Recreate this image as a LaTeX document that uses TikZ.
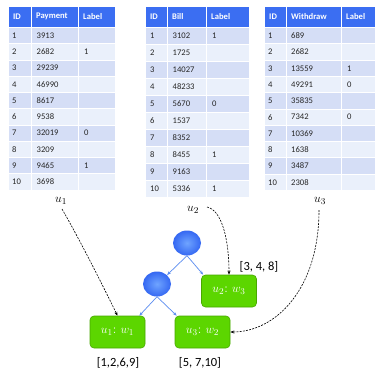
\documentclass[tikz,border=0pt]{standalone}
\usepackage{fontspec}
\newfontfamily\tabfont{Carlito}
\usetikzlibrary{arrows.meta,shapes.geometric}
\definecolor{hdr}{HTML}{3B6EF2}
\definecolor{rowa}{HTML}{D5DEF6}
\definecolor{rowb}{HTML}{EAF0FB}
\definecolor{leaf}{HTML}{5CD600}
\definecolor{leafb}{HTML}{48A800}
\definecolor{edgec}{HTML}{5A8CF0}
\definecolor{ballin}{HTML}{6FA4FF}
\definecolor{ballout}{HTML}{3568F2}
\newcommand\tabgrid[5]{%
  \fill[hdr,draw=white,line width=1pt] (#1,6) rectangle (#2,27.5);
  \fill[hdr,draw=white,line width=1pt] (#2,6) rectangle (#3,27.5);
  \fill[hdr,draw=white,line width=1pt] (#3,6) rectangle (#4,27.5);
  \foreach \i in {0,...,9} {
    \pgfmathsetmacro\ya{27.5+\i*#5}
    \pgfmathsetmacro\yb{27.5+(\i+1)*#5}
    \pgfmathtruncatemacro\odd{mod(\i,2)}
    \ifnum\odd=0 \def\rc{rowa}\else\def\rc{rowb}\fi
    \foreach \xa/\xb in {#1/#2,#2/#3,#3/#4}
      \filldraw[fill=\rc,draw=white,line width=1pt] (\xa,\ya) rectangle (\xb,\yb);
  }
}
\begin{document}
\begin{tikzpicture}[x=1pt,y=-1pt,
  cell/.style={font=\tabfont\fontsize{8.6}{10}\selectfont,anchor=west,inner sep=0pt,text=black!85},
  hcell/.style={font=\tabfont\bfseries\fontsize{8.6}{10}\selectfont,anchor=west,inner sep=0pt,text=white},
  ballnode/.style={ellipse,minimum width=28pt,minimum height=25pt,inner sep=0pt,inner color=ballin,outer color=ballout},
  leafbox/.style={rectangle,rounded corners=4pt,fill=leaf,draw=leafb,line width=0.6pt,minimum width=55pt,minimum height=32pt,text=white,font=\fontsize{13}{15}\selectfont},
  treeedge/.style={draw=edgec,line width=0.7pt,-{Stealth[length=4pt,width=3pt]}},
  dasharrow/.style={draw=black,dashed,dash pattern=on 2pt off 1.2pt,line width=0.6pt,-{Stealth[length=4pt,width=3pt]}},
  ulabel/.style={font=\fontsize{13}{15}\selectfont,inner sep=0pt},
  listlabel/.style={font=\tabfont\fontsize{12.5}{14}\selectfont,inner sep=0pt}]
\useasboundingbox[fill=white] (0,0) rectangle (382,373);

% ---- Table 1
\tabgrid{8}{31.5}{78.5}{115}{16.25}
\node[hcell] (h1a) at (13,16.5) {ID};
\node[hcell] (h1b) at (36,16.5) {Payment};
\node[hcell] (h1c) at (83,16.5) {Label};
\foreach \v [count=\i] in {3913,2682,29239,46990,8617,9538,32019,3209,9465,3698}{
  \node[cell] (pid\i) at (12,{27.5+(\i-0.5)*16.25}) {\i};
  \node[cell] (pv\i) at (36.5,{27.5+(\i-0.5)*16.25}) {\v};
}
\node[cell] (pl2) at (84,{27.5+1.5*16.25}) {1};
\node[cell] (pl7) at (84,{27.5+6.5*16.25}) {0};
\node[cell] (pl9) at (84,{27.5+8.5*16.25}) {1};

% ---- Table 2
\tabgrid{145}{167.5}{206.5}{249}{16.95}
\node[hcell] (h2a) at (150,16.5) {ID};
\node[hcell] (h2b) at (172,16.5) {Bill};
\node[hcell] (h2c) at (211,16.5) {Label};
\foreach \v [count=\i] in {3102,1725,14027,48233,5670,1537,8352,8455,9163,5336}{
  \node[cell] (bid\i) at (150,{27.5+(\i-0.5)*16.95}) {\i};
  \node[cell] (bv\i) at (172.5,{27.5+(\i-0.5)*16.95}) {\v};
}
\node[cell] (bl1) at (212,{27.5+0.5*16.95}) {1};
\node[cell] (bl5) at (212,{27.5+4.5*16.95}) {0};
\node[cell] (bl8) at (212,{27.5+7.5*16.95}) {1};
\node[cell] (bl10) at (212,{27.5+9.5*16.95}) {1};

% ---- Table 3
\tabgrid{264}{286}{341.5}{375}{16.3}
\node[hcell] (h3a) at (269,16.5) {ID};
\node[hcell] (h3b) at (291,16.5) {Withdraw};
\node[hcell] (h3c) at (346,16.5) {Label};
\foreach \v [count=\i] in {689,2682,13559,49291,35835,7342,10369,1638,3487,2308}{
  \node[cell] (wid\i) at (268,{27.5+(\i-0.5)*16.3}) {\i};
  \node[cell] (wv\i) at (291,{27.5+(\i-0.5)*16.3}) {\v};
}
\node[cell] (wl3) at (347,{27.5+2.5*16.3}) {1};
\node[cell] (wl4) at (347,{27.5+3.5*16.3}) {0};
\node[cell] (wl6) at (347,{27.5+5.5*16.3}) {0};

% ---- u labels
\node[ulabel] (u1) at (61,201) {$u_1$};
\node[ulabel] (u2) at (193,210) {$u_2$};
\node[ulabel] (u3) at (320,201) {$u_3$};

% ---- tree
\node[ballnode] (root) at (187,243) {};
\node[ballnode] (mid) at (157,284) {};
\node[leafbox] (b1) at (117.5,332) {$u_1$:\ $w_1$};
\node[leafbox] (b3) at (202.5,332) {$u_3$:\ $w_2$};
\node[leafbox] (b2) at (229,291) {$u_2$:\ $w_3$};

\draw[treeedge] (root.south) -- (mid.north east);
\draw[treeedge] (root.south) -- ([xshift=2pt,yshift=0pt]b2.north west);
\draw[treeedge] (mid.south) -- ([xshift=-6pt]b1.north east);
\draw[treeedge] (mid.south) -- ([xshift=2pt]b3.north west);

% ---- list labels
\node[listlabel] (l1) at (118,363) {[1,2,6,9]};
\node[listlabel] (l3) at (200,363) {[5, 7,10]};
\node[listlabel] (l2) at (259,267) {[3, 4, 8]};

% ---- dashed arrows
\coordinate (u1s) at (62,209);
\coordinate (u2s) at (207,207);
\coordinate (u3s) at (319,210);
\draw[dasharrow] (u1s) .. controls (80,240) and (105,290) .. (b1.north);
\draw[dasharrow] (u2s) .. controls (222,210) and (229,240) .. (b2.north);
\draw[dasharrow] (u3s) .. controls (319,290) and (275,332) .. (b3.east);
\end{tikzpicture}
\end{document}
